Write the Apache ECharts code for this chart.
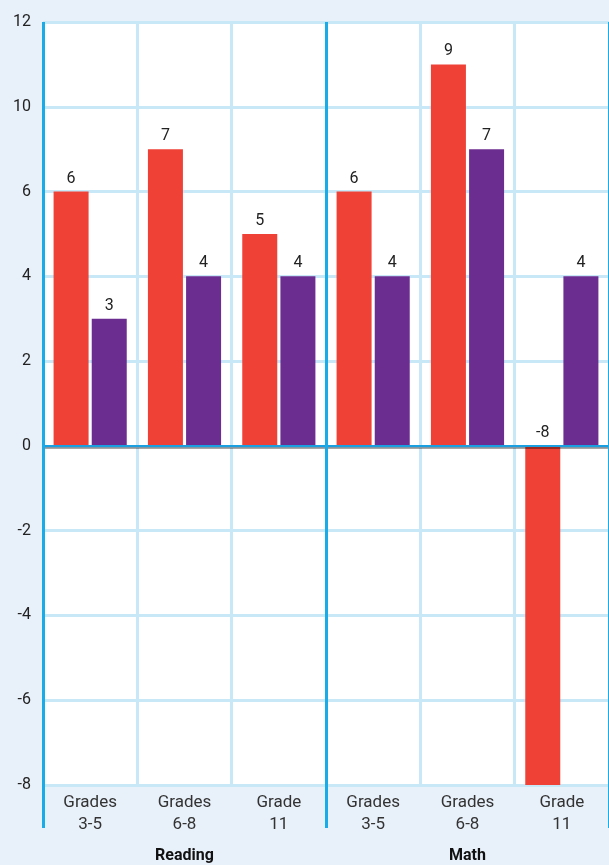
<!DOCTYPE html>
<html><head><meta charset="utf-8">
<script src="https://cdn.jsdelivr.net/npm/echarts@6/dist/echarts.min.js"></script>
<style>html,body{margin:0;padding:0;background:#e8f0fa;}#c{width:609px;height:865px;}</style>
</head><body><div id="c"></div>
<script>
const categories = ['Grades\n3-5','Grades\n6-8','Grade\n11','Grades\n3-5','Grades\n6-8','Grade\n11'];
const groups = ['Reading','Math'];
const redValues = [6, 7, 5, 6, 9, -8];
const purpleValues = [3, 4, 4, 4, 7, 4];
const yTickLabels = ['-8','-6','-4','-2','0','2','4','6','10','12'];
const yMin = -8, yMax = 10, yStep = 2;

const FONT = 'Roboto';
const chart = echarts.init(document.getElementById('c'));
chart.setOption({
  backgroundColor: '#e8f0fa',
  animation: false,
  grid: {left: 43, top: 22, width: 572, bottom: 80, show: true, backgroundColor: '#ffffff', borderWidth: 0},
  xAxis: [{
    type: 'category', data: categories,
    axisLine: {onZero: true, lineStyle: {color: '#1a9fe0', width: 2, shadowColor: 'rgba(0,0,0,0.35)', shadowOffsetY: 2, shadowBlur: 0}},
    axisTick: {show: false},
    axisLabel: {color: '#333', fontFamily: FONT, fontSize: 17, lineHeight: 22, margin: 7},
    splitLine: {show: true, lineStyle: {color: '#c8e8f8', width: 3}},
    z: 5
  }, {
    type: 'category', data: groups, position: 'bottom',
    axisLine: {show: false},
    axisTick: {show: true, length: 43, lineStyle: {color: '#1aace8', width: 3}},
    axisLabel: {color: '#111', fontFamily: FONT, fontSize: 16, fontWeight: 'bold', margin: 63},
    splitLine: {show: true, lineStyle: {color: '#1aace8', width: 3}},
    z: 6
  }],
  yAxis: {
    type: 'value', min: yMin, max: yMax, interval: yStep,
    axisLine: {show: false}, axisTick: {show: false},
    axisLabel: {color: '#222', fontFamily: FONT, fontSize: 16, margin: 12,
      formatter: v => yTickLabels[Math.round((v - yMin) / yStep)]},
    splitLine: {lineStyle: {color: '#c8e8f8', width: 3}}
  },
  series: [{
    type: 'bar', data: redValues, barWidth: 35, barGap: '9%', z: 3,
    itemStyle: {color: '#ef4136'},
    label: {show: true, position: 'top', color: '#222', fontFamily: FONT, fontSize: 16, distance: 5}
  }, {
    type: 'bar', data: purpleValues, barWidth: 35, z: 3,
    itemStyle: {color: '#6c2d91'},
    label: {show: true, position: 'top', color: '#222', fontFamily: FONT, fontSize: 16, distance: 5}
  }]
});
</script></body></html>
